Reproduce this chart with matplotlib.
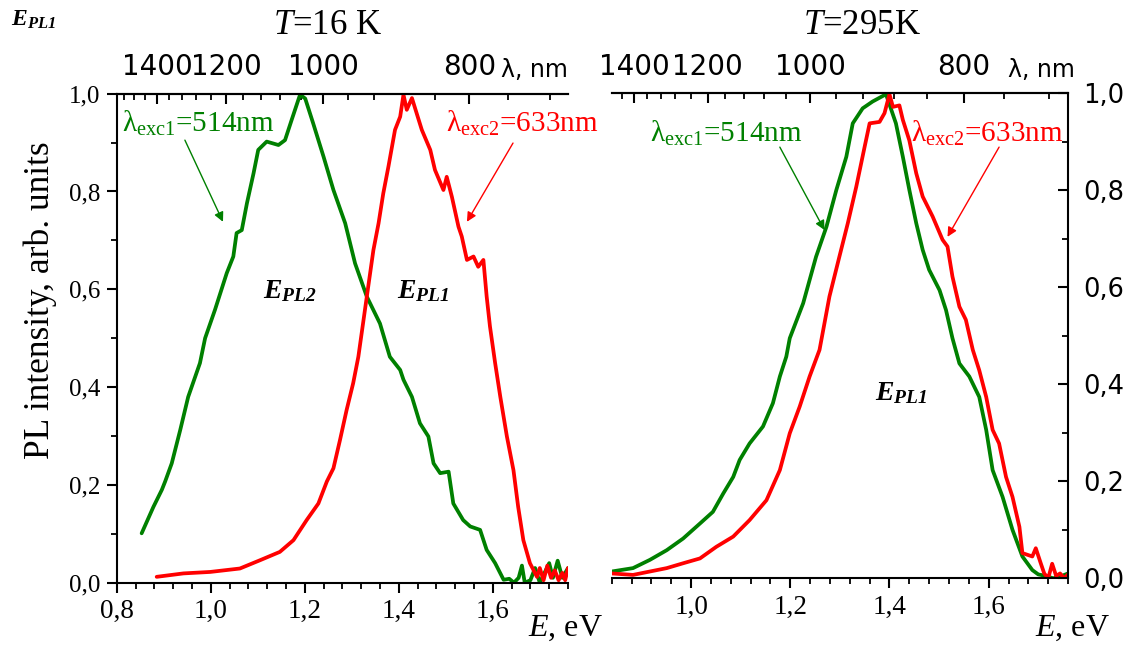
import numpy as np
import matplotlib
matplotlib.use("Agg")
import matplotlib.pyplot as plt
from matplotlib.ticker import MultipleLocator, FixedLocator, FuncFormatter, NullFormatter

plt.rcParams['font.family'] = ['Liberation Serif', 'DejaVu Serif']
plt.rcParams['mathtext.fontset'] = 'custom'
plt.rcParams['mathtext.rm'] = 'Liberation Serif'
plt.rcParams['mathtext.it'] = 'Liberation Serif:italic'
plt.rcParams['mathtext.bf'] = 'Liberation Serif:bold:italic'

GREEN = '#008000'
RED = '#ff0000'

# ---------------- data ----------------
# T = 16 K, excitation 514 nm (green)
e16_exc1 = [0.853, 0.878, 0.896, 0.903, 0.917, 0.935, 0.952, 0.977, 0.988, 1.009,
            1.034, 1.048, 1.055, 1.066, 1.077, 1.091, 1.101, 1.119, 1.144, 1.158,
            1.172, 1.190, 1.201, 1.218, 1.240, 1.261, 1.286, 1.307, 1.332, 1.360,
            1.381, 1.403, 1.410, 1.428, 1.445, 1.463, 1.474, 1.488, 1.506, 1.516,
            1.537, 1.552, 1.573, 1.587, 1.605, 1.623,
            1.635, 1.645, 1.655, 1.662, 1.668, 1.680, 1.690, 1.700, 1.710, 1.720,
            1.728, 1.738, 1.748, 1.760]
i16_exc1 = [0.101, 0.155, 0.190, 0.207, 0.244, 0.312, 0.380, 0.449, 0.500, 0.558,
            0.633, 0.667, 0.715, 0.721, 0.776, 0.837, 0.885, 0.902, 0.895, 0.905,
            0.946, 0.998, 0.990, 0.939, 0.871, 0.803, 0.735, 0.653, 0.585, 0.530,
            0.462, 0.435, 0.415, 0.380, 0.326, 0.299, 0.244, 0.224, 0.227, 0.162,
            0.128, 0.115, 0.108, 0.067, 0.040, 0.006,
            0.008, 0.000, 0.010, 0.035, 0.000, 0.005, 0.030, 0.000, 0.020, 0.040,
            0.010, 0.045, 0.010, 0.030]

# T = 16 K, excitation 633 nm (red)
e16_exc2 = [0.885, 0.942, 0.999, 1.062, 1.105, 1.147, 1.176, 1.204, 1.229, 1.247,
            1.261, 1.275, 1.289, 1.303, 1.314, 1.332, 1.346, 1.357, 1.367, 1.378,
            1.392, 1.403, 1.410, 1.417, 1.428, 1.438, 1.449, 1.467, 1.477, 1.495,
            1.502, 1.513, 1.527, 1.534, 1.545, 1.559, 1.569, 1.580, 1.587, 1.594,
            1.605, 1.616, 1.630, 1.644, 1.654, 1.665, 1.679, 1.694,
            1.700, 1.708, 1.716, 1.724, 1.732, 1.740, 1.748, 1.754, 1.760]
i16_exc2 = [0.012, 0.019, 0.022, 0.029, 0.046, 0.063, 0.087, 0.128, 0.162, 0.207,
            0.234, 0.292, 0.353, 0.408, 0.462, 0.585, 0.680, 0.735, 0.796, 0.851,
            0.926, 0.953, 0.998, 0.967, 0.991, 0.960, 0.926, 0.885, 0.844, 0.803,
            0.830, 0.789, 0.728, 0.708, 0.660, 0.667, 0.646, 0.660, 0.585, 0.524,
            0.449, 0.380, 0.299, 0.230, 0.155, 0.087, 0.040, 0.012,
            0.030, 0.005, 0.035, 0.010, 0.025, 0.005, 0.020, 0.005, 0.030]

# T = 295 K, excitation 514 nm (green)
e295_exc1 = [0.840, 0.883, 0.917, 0.951, 0.984, 1.018, 1.044, 1.065, 1.085, 1.098,
             1.118, 1.145, 1.165, 1.179, 1.192, 1.199, 1.226, 1.252, 1.273, 1.293,
             1.313, 1.326, 1.346, 1.366, 1.393, 1.413, 1.427, 1.440, 1.454, 1.467,
             1.480, 1.501, 1.514, 1.527, 1.541, 1.561, 1.581, 1.595, 1.608, 1.628,
             1.648, 1.668, 1.688,
             1.700, 1.715, 1.730, 1.745, 1.760]
i295_exc1 = [0.014, 0.021, 0.038, 0.058, 0.082, 0.113, 0.137, 0.175, 0.209, 0.244,
             0.278, 0.313, 0.361, 0.416, 0.457, 0.495, 0.567, 0.663, 0.725, 0.801,
             0.869, 0.938, 0.969, 0.983, 0.998, 0.938, 0.869, 0.801, 0.732, 0.677,
             0.636, 0.594, 0.553, 0.495, 0.443, 0.416, 0.374, 0.306, 0.223, 0.168,
             0.100, 0.045, 0.017,
             0.008, 0.005, 0.000, 0.004, 0.010]

# T = 295 K, excitation 633 nm (red)
e295_exc2 = [0.840, 0.883, 0.917, 0.951, 0.984, 1.018, 1.051, 1.085, 1.118, 1.152,
             1.179, 1.199, 1.219, 1.239, 1.259, 1.279, 1.299, 1.316, 1.333, 1.350,
             1.360, 1.380, 1.390, 1.400, 1.407, 1.420, 1.427, 1.440, 1.454, 1.467,
             1.487, 1.507, 1.517, 1.527, 1.541, 1.554, 1.568, 1.581, 1.595, 1.608,
             1.621, 1.635, 1.648, 1.662, 1.668, 1.688, 1.695, 1.705,
             1.712, 1.720, 1.728, 1.736, 1.744, 1.752, 1.760]
i295_exc2 = [0.010, 0.007, 0.014, 0.021, 0.031, 0.041, 0.065, 0.086, 0.120, 0.161,
             0.223, 0.299, 0.354, 0.416, 0.471, 0.581, 0.663, 0.732, 0.807, 0.890,
             0.938, 0.941, 0.959, 0.998, 0.972, 0.975, 0.945, 0.903, 0.835, 0.787,
             0.746, 0.698, 0.684, 0.622, 0.560, 0.533, 0.471, 0.429, 0.374, 0.306,
             0.278, 0.209, 0.168, 0.106, 0.052, 0.045, 0.062, 0.031,
             0.010, 0.000, 0.030, 0.005, 0.010, 0.000, 0.008]

wl_major = [1400, 1200, 1000, 800]
wl_minor = [1520, 1480, 1440, 1360, 1320, 1280, 1240, 1160, 1120, 1080, 1040,
            960, 920, 880, 840, 760, 720]

titles = [r'$T$=16 K', r'$T$=295K']
exc1_label = r'$\mathrm{\lambda_{exc1}}$=514nm'
exc2_label = r'$\mathrm{\lambda_{exc2}}$=633nm'

HC = 1239.84  # eV*nm


def e2l(x):
    x = np.asarray(x, dtype=float)
    with np.errstate(divide='ignore', invalid='ignore'):
        return HC / x


comma = FuncFormatter(lambda v, p: f'{v:.1f}'.replace('.', ','))

fig = plt.figure(figsize=(11.29, 6.46), dpi=100)
axL = fig.add_axes([0.1034, 0.0980, 0.3997, 0.7570])
axR = fig.add_axes([0.5418, 0.1048, 0.4042, 0.7508])

LW = 2.7
axL.plot(e16_exc1, i16_exc1, color=GREEN, lw=LW, solid_joinstyle='round', solid_capstyle='round')
axL.plot(e16_exc2, i16_exc2, color=RED, lw=LW, solid_joinstyle='round', solid_capstyle='round')
axR.plot(e295_exc1, i295_exc1, color=GREEN, lw=LW, solid_joinstyle='round', solid_capstyle='round')
axR.plot(e295_exc2, i295_exc2, color=RED, lw=LW, solid_joinstyle='round', solid_capstyle='round')

axL.set_xlim(0.8, 1.76)
axR.set_xlim(0.84, 1.76)
for ax in (axL, axR):
    ax.set_ylim(0, 1.0)
    ax.xaxis.set_major_locator(MultipleLocator(0.2))
    ax.xaxis.set_minor_locator(MultipleLocator(0.04))
    ax.yaxis.set_major_locator(MultipleLocator(0.2))
    ax.yaxis.set_minor_locator(MultipleLocator(0.1))
    ax.xaxis.set_major_formatter(comma)
    ax.yaxis.set_major_formatter(comma)
    for s in ax.spines.values():
        s.set_linewidth(1.5)
    ax.tick_params(axis='x', which='major', direction='out', length=7, width=1.5,
                   labelsize=19.5, pad=5, top=False)
    ax.tick_params(axis='x', which='minor', direction='out', length=4, width=1.3, top=False)
    ax.set_facecolor('none')

# left panel: y on left, no right spine
axL.spines['right'].set_visible(False)
axL.tick_params(axis='y', which='major', direction='out', length=7, width=1.5,
                labelsize=18, pad=5, right=False)
axL.tick_params(axis='y', which='minor', direction='out', length=4, width=1.3, right=False)

# right panel: y on right, no left spine
axR.spines['left'].set_visible(False)
axR.yaxis.tick_right()
axR.tick_params(axis='y', which='major', direction='in', length=7, width=1.5,
                labelsize=18.5, pad=11, left=False, right=True)
axR.tick_params(axis='y', which='minor', direction='in', length=4, width=1.3, left=False, right=True)
for lab in axR.get_yticklabels():
    lab.set_family('DejaVu Sans')
axR.yaxis.set_major_formatter(comma)

# wavelength axes on top
for ax in (axL, axR):
    sec = ax.secondary_xaxis('top', functions=(e2l, e2l))
    sec.xaxis.set_major_locator(FixedLocator(wl_major))
    sec.xaxis.set_minor_locator(FixedLocator(wl_minor))
    sec.xaxis.set_minor_formatter(NullFormatter())
    sec.tick_params(axis='x', which='major', direction='in', length=7, width=1.5,
                    labelsize=20, pad=9)
    sec.tick_params(axis='x', which='minor', direction='in', length=4, width=1.3)
    sec.spines['top'].set_linewidth(1.5)
    for lab in sec.get_xticklabels():
        lab.set_family('DejaVu Sans')

# annotations
FS_ANN = 21
akw = dict(arrowstyle='-|>', lw=1.0, mutation_scale=14, shrinkA=0, shrinkB=0)
axL.text(0.811, 0.922, exc1_label, color=GREEN, fontsize=FS_ANN, ha='left', va='baseline')
axL.annotate('', xy=(1.026, 0.738), xytext=(0.945, 0.905),
             arrowprops=dict(color=GREEN, **akw))
axL.text(1.500, 0.922, exc2_label, color=RED, fontsize=FS_ANN, ha='left', va='baseline',
         clip_on=False)
axL.annotate('', xy=(1.545, 0.738), xytext=(1.643, 0.899),
             arrowprops=dict(color=RED, **akw))

axR.text(0.917, 0.900, exc1_label, color=GREEN, fontsize=FS_ANN, ha='left', va='baseline')
axR.annotate('', xy=(1.269, 0.718), xytext=(1.179, 0.889),
             arrowprops=dict(color=GREEN, **akw))
axR.text(1.444, 0.900, exc2_label, color=RED, fontsize=FS_ANN, ha='left', va='baseline')
axR.annotate('', xy=(1.517, 0.704), xytext=(1.621, 0.889),
             arrowprops=dict(color=RED, **akw))

axL.text(1.112, 0.582, r'$\mathbf{E_{PL2}}$', fontsize=20, ha='left', va='baseline')
axL.text(1.396, 0.582, r'$\mathbf{E_{PL1}}$', fontsize=20, ha='left', va='baseline')
axR.text(1.370, 0.368, r'$\mathbf{E_{PL1}}$', fontsize=20, ha='left', va='baseline')

# figure-level texts
fig.text(0.2905, 0.9613, titles[0], fontsize=25, ha='center', va='center')
fig.text(0.7635, 0.9613, titles[1], fontsize=25, ha='center', va='center')
fig.text(0.473, 0.8916, 'λ, nm', fontsize=17, ha='center', va='center', family='DejaVu Sans')
fig.text(0.922, 0.8916, 'λ, nm', fontsize=17, ha='center', va='center', family='DejaVu Sans')
fig.text(0.5004, 0.0279, r'$E$, eV', fontsize=23, ha='center', va='center')
fig.text(0.9495, 0.0279, r'$E$, eV', fontsize=23, ha='center', va='center')
fig.text(0.0354, 0.5356, 'PL intensity, arb. units', fontsize=25.5, rotation=90,
         ha='center', va='center')
fig.text(0.0097, 0.969, r'$\mathbf{E_{PL1}}$', fontsize=17, ha='left', va='center')

fig.savefig('out.png', dpi=100)
